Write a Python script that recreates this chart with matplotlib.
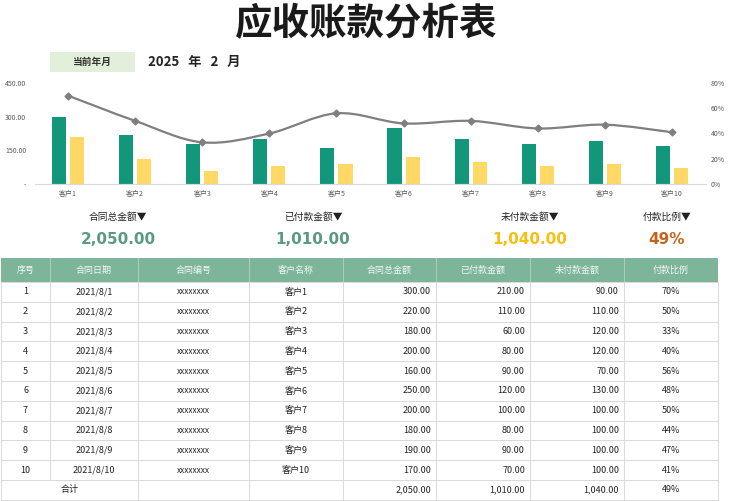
import matplotlib
matplotlib.use("Agg")
import matplotlib.pyplot as plt
from matplotlib.patches import Rectangle
from matplotlib.path import Path
from matplotlib.patches import PathPatch

plt.rcParams['font.family'] = ['Noto Sans CJK SC', 'DejaVu Sans']

# data
customers = ["客户1", "客户2", "客户3", "客户4", "客户5",
             "客户6", "客户7", "客户8", "客户9", "客户10"]
dates = ["2021/8/1", "2021/8/2", "2021/8/3", "2021/8/4", "2021/8/5",
         "2021/8/6", "2021/8/7", "2021/8/8", "2021/8/9", "2021/8/10"]
contract_no = ["xxxxxxxx"] * 10
total_amt = [300, 220, 180, 200, 160, 250, 200, 180, 190, 170]
paid_amt = [210, 110, 60, 80, 90, 120, 100, 80, 90, 70]
unpaid_amt = [90, 110, 120, 120, 70, 130, 100, 100, 100, 100]
pay_ratio = [0.70, 0.50, 0.33, 0.40, 0.56, 0.48, 0.50, 0.44, 0.47, 0.41]
headers = ["序号", "合同日期", "合同编号", "客户名称", "合同总金额", "已付款金额", "未付款金额", "付款比例"]

GREEN = "#13977B"
YELLOW = "#FFD866"
GRAY = "#7F7F7F"
HEAD = "#7DB59A"

fig = plt.figure(figsize=(7.32, 5.01), dpi=100)

# pixel-space overlay for text and table
ax0 = fig.add_axes([0, 0, 1, 1])
ax0.set_xlim(0, 732)
ax0.set_ylim(501, 0)
ax0.axis("off")

ax0.text(366, 24, "应收账款分析表", ha="center", va="center", fontsize=27,
         fontweight="heavy", color="#1a1a1a")
ax0.add_patch(Rectangle((50, 52), 85, 20, facecolor="#E2EFDA", edgecolor="none"))
ax0.text(92, 62, "当前年月", ha="center", va="center", fontsize=7, fontweight="bold", color="#333333")
ax0.text(148, 62, "2025   年   2   月", ha="left", va="center", fontsize=9.5,
         fontweight="bold", color="#222222")

# KPI blocks
tot = sum(total_amt)
paid = sum(paid_amt)
unpaid = sum(unpaid_amt)
kpis = [
    (118, "合同总金额", f"{tot:,.2f}", "#5A9A7E"),
    (313, "已付款金额", f"{paid:,.2f}", "#5A9A7E"),
    (530, "未付款金额", f"{unpaid:,.2f}", "#F7BE14"),
    (667, "付款比例", f"{paid / tot:.0%}", "#C5631A"),
]
for x, lab, val, col in kpis:
    ax0.text(x, 217, lab + "▼", ha="center", va="center", fontsize=7, color="#222222")
    ax0.text(x, 239, val, ha="center", va="center", fontsize=11, fontweight="bold",
             color=col, family="DejaVu Sans")

# table
col_x = [1, 50, 138, 249, 343, 436, 530, 624, 718]
head_top, head_bot = 258, 282
row_h = 19.8
ax0.add_patch(Rectangle((col_x[0], head_top), col_x[-1] - col_x[0], head_bot - head_top,
                        facecolor=HEAD, edgecolor="none"))
for i, h in enumerate(headers):
    ax0.text((col_x[i] + col_x[i + 1]) / 2, (head_top + head_bot) / 2, h, ha="center",
             va="center", fontsize=6.5, color="#F2F7F4")
    if i > 0:
        ax0.plot([col_x[i], col_x[i]], [head_top, head_bot], color="#A9CDBB", lw=0.8)

rows = []
for i in range(10):
    rows.append([str(i + 1), dates[i], contract_no[i], customers[i],
                 f"{total_amt[i]:.2f}", f"{paid_amt[i]:.2f}", f"{unpaid_amt[i]:.2f}",
                 f"{pay_ratio[i]:.0%}"])
line_c = "#D9D9D9"
for r, row in enumerate(rows):
    yc = head_bot + (r + 0.5) * row_h
    for c, v in enumerate(row):
        if c in (4, 5, 6):
            ax0.text(col_x[c + 1] - 5, yc, v, ha="right", va="center", fontsize=6.5, color="#222222")
        else:
            fs = 6 if c == 2 else 6.5
            ax0.text((col_x[c] + col_x[c + 1]) / 2, yc, v, ha="center", va="center",
                     fontsize=fs, color="#222222")

# total row
yc = head_bot + 10.5 * row_h
ax0.text((col_x[0] + col_x[2]) / 2, yc, "合计", ha="center", va="center", fontsize=6.5, color="#222222")
for c, v in zip((4, 5, 6), (tot, paid, unpaid)):
    ax0.text(col_x[c + 1] - 5, yc, f"{v:,.2f}", ha="right", va="center", fontsize=6.5, color="#222222")
ax0.text((col_x[7] + col_x[8]) / 2, yc, f"{paid / tot:.0%}", ha="center", va="center",
         fontsize=6.5, color="#222222")

n_rows = 11
bottom = head_bot + n_rows * row_h
for r in range(n_rows + 1):
    y = head_bot + r * row_h
    ax0.plot([col_x[0], col_x[-1]], [y, y], color=line_c, lw=0.7)
for i, x in enumerate(col_x):
    ax0.plot([x, x], [head_bot, head_bot + 10 * row_h], color=line_c, lw=0.7)
    if i != 1:
        ax0.plot([x, x], [head_bot + 10 * row_h, bottom], color=line_c, lw=0.7)

# chart
ax = fig.add_axes([34.5 / 732, 1 - 184 / 501, (705.5 - 34.5) / 732, 101 / 501])
ax.patch.set_alpha(0)
xs = list(range(len(customers)))
w = 0.21
ax.bar([x - 0.135 for x in xs], total_amt, width=w, color=GREEN, zorder=2)
ax.bar([x + 0.135 for x in xs], paid_amt, width=w, color=YELLOW, zorder=2)
ax.set_xlim(-0.5, 9.5)
ax.set_ylim(0, 450)
ax.set_yticks([0, 150, 300, 450])
ax.set_yticklabels(["-", "150.00", "300.00", "450.00"])
ax.set_xticks(xs)
ax.set_xticklabels(customers)
ax.tick_params(length=0, labelsize=5, colors="#595959", pad=4)
ax.tick_params(axis="y", pad=6)
for s in ("top", "left", "right"):
    ax.spines[s].set_visible(False)
ax.spines["bottom"].set_color("#D9D9D9")

ax2 = ax.twinx()
ax2.set_ylim(0, 0.8)
ax2.set_yticks([0, 0.2, 0.4, 0.6, 0.8])
ax2.set_yticklabels(["0%", "20%", "40%", "60%", "80%"])
ax2.tick_params(length=0, labelsize=5, colors="#595959", pad=4)
for s in ax2.spines.values():
    s.set_visible(False)

# smoothed line (Catmull-Rom drawn as bezier path)
pts = list(zip(xs, pay_ratio))
verts = [pts[0]]
codes = [Path.MOVETO]
for i in range(len(pts) - 1):
    p0 = pts[i - 1] if i > 0 else pts[i]
    p1 = pts[i]
    p2 = pts[i + 1]
    p3 = pts[i + 2] if i + 2 < len(pts) else pts[i + 1]
    c1 = (p1[0] + (p2[0] - p0[0]) / 6, p1[1] + (p2[1] - p0[1]) / 6)
    c2 = (p2[0] - (p3[0] - p1[0]) / 6, p2[1] - (p3[1] - p1[1]) / 6)
    verts += [c1, c2, p2]
    codes += [Path.CURVE4] * 3
ax2.add_patch(PathPatch(Path(verts, codes), facecolor="none", edgecolor=GRAY, lw=1.6, zorder=3))
ax2.plot(xs, pay_ratio, linestyle="none", marker="D", markersize=3.5, color=GRAY, zorder=4)

fig.savefig("out.png", dpi=100)
